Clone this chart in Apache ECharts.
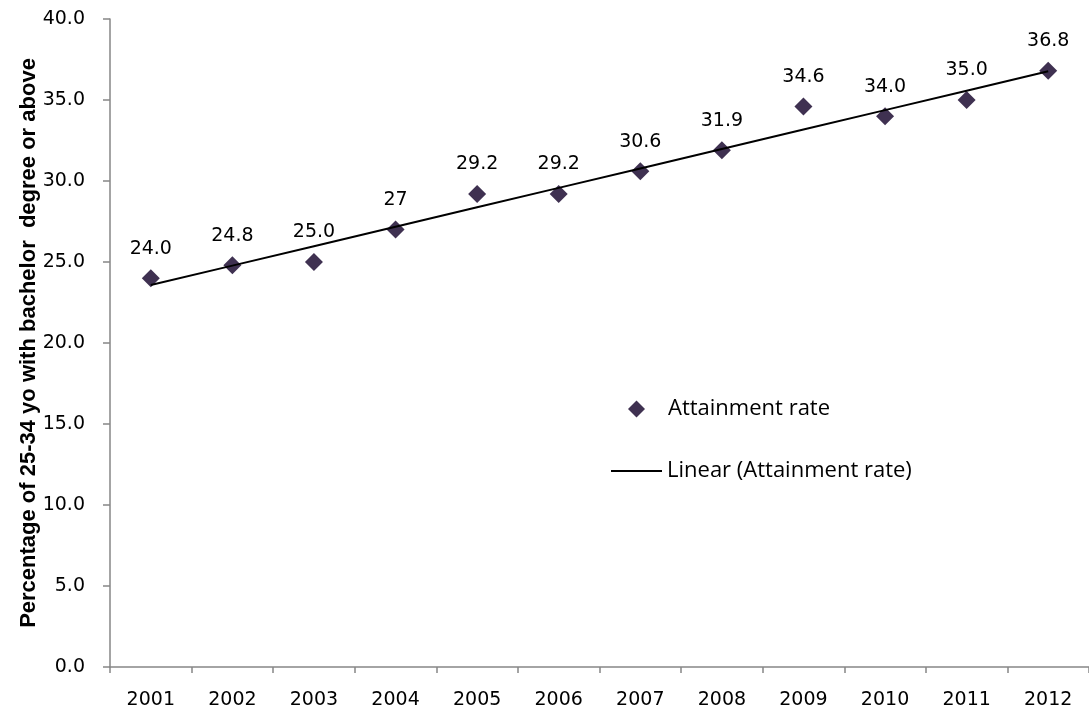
<!DOCTYPE html>
<html>
<head>
<meta charset="utf-8">
<script src="https://cdn.jsdelivr.net/npm/echarts@6/dist/echarts.min.js"></script>
<style>html,body{margin:0;padding:0;background:#fff}#c{width:1089px;height:714px}</style>
</head>
<body>
<div id="c"></div>
<script>
const years = ['2001','2002','2003','2004','2005','2006','2007','2008','2009','2010','2011','2012'];
const rates = [24.0, 24.8, 25.0, 27.0, 29.2, 29.2, 30.6, 31.9, 34.6, 34.0, 35.0, 36.8];
const rateLabels = ['24.0','24.8','25.0','27','29.2','29.2','30.6','31.9','34.6','34.0','35.0','36.8'];
const yTicks = [0, 5, 10, 15, 20, 25, 30, 35, 40];

// Linear trendline (least squares, as the Excel "Linear" trendline)
const n = rates.length;
const xs = rates.map((_, i) => i + 1);
const mx = xs.reduce((a, b) => a + b, 0) / n;
const my = rates.reduce((a, b) => a + b, 0) / n;
let sxy = 0, sxx = 0;
for (let i = 0; i < n; i++) { sxy += (xs[i] - mx) * (rates[i] - my); sxx += (xs[i] - mx) ** 2; }
const slope = sxy / sxx, icpt = my - slope * mx;
const trend = xs.map(x => +(icpt + slope * x).toFixed(4));

const chart = echarts.init(document.getElementById('c'));
chart.setOption({
  animation: false,
  backgroundColor: '#fff',
  grid: { left: 110, right: -2, top: 19, bottom: 47, containLabel: false },
  legend: [
    {
      data: [{ name: 'Attainment rate', icon: 'diamond' }], left: 623, top: 393, orient: 'vertical',
      itemWidth: 17, itemHeight: 17, itemGap: 10,
      itemStyle: { color: '#3F3151', opacity: 1 },
      textStyle: { fontFamily: 'Open Sans', fontSize: 22, color: '#000', padding: [0, 0, 0, 18] }
    },
    {
      data: [{ name: 'Linear (Attainment rate)', icon: 'rect' }],
      left: 606, top: 455, orient: 'vertical',
      itemWidth: 51, itemHeight: 2, itemGap: 10,
      itemStyle: { color: '#000', opacity: 1, borderWidth: 0 },
      textStyle: { fontFamily: 'Open Sans', fontSize: 22, color: '#000' }
    }
  ],
  xAxis: {
    type: 'category', data: years, boundaryGap: true,
    axisLine: { lineStyle: { color: '#868686', width: 1.5 } },
    axisTick: { show: true, length: 6, inside: false, alignWithLabel: false, lineStyle: { color: '#868686', width: 1.5 } },
    axisLabel: { margin: 24, fontFamily: 'DejaVu Sans', fontSize: 19, color: '#000' },
    splitLine: { show: false }
  },
  yAxis: {
    type: 'value', min: 0, max: 40, interval: 5,
    name: 'Percentage of 25-34 yo with bachelor  degree or above',
    nameLocation: 'middle', nameGap: 70, nameRotate: 90, nameMoveOverlap: false,
    nameTextStyle: { fontFamily: 'Liberation Sans', fontWeight: 'bold', fontSize: 22, color: '#000' },
    axisLine: { show: true, lineStyle: { color: '#868686', width: 1.5 } },
    axisTick: { show: true, length: 7, inside: false, lineStyle: { color: '#868686', width: 1.5 } },
    axisLabel: { margin: 25, fontFamily: 'DejaVu Sans', fontSize: 19, color: '#000',
      formatter: v => yTicks.includes(v) ? v.toFixed(1) : '' },
    splitLine: { show: false }
  },
  series: [
    {
      name: 'Linear (Attainment rate)', type: 'line', data: trend,
      symbol: 'none', silent: true, z: 3,
      lineStyle: { color: '#000', width: 2 },
      itemStyle: { color: '#000' }
    },
    {
      name: 'Attainment rate', type: 'scatter', data: rates,
      symbol: 'diamond', symbolSize: 18, z: 2,
      itemStyle: { color: '#3F3151', opacity: 1 },
      label: {
        show: true, position: 'top', distance: 11,
        fontFamily: 'DejaVu Sans', fontSize: 19, color: '#000',
        formatter: p => rateLabels[p.dataIndex]
      }
    }
  ]
});
</script>
</body>
</html>
